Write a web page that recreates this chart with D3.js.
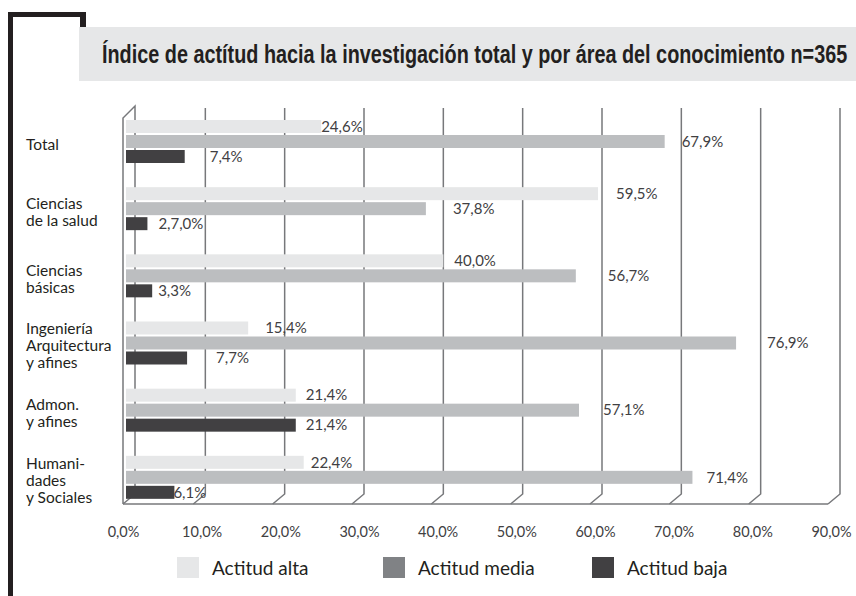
<!DOCTYPE html>
<html>
<head>
<meta charset="utf-8">
<script src="https://cdn.jsdelivr.net/npm/d3@7"></script>
<style>
  body { margin:0; background:#fff; }
  svg { display:block; }
  text { font-family: Lato, "Open Sans", sans-serif; fill:#414042; }
</style>
</head>
<body>
<div id="chart"></div>
<script>
// chart data
var categories = ["Total", "Ciencias de la salud", "Ciencias básicas", "Ingeniería Arquitectura y afines", "Admon. y afines", "Humanidades y Sociales"]
var catLines = [["Total"], ["Ciencias", "de la salud"], ["Ciencias", "básicas"], ["Ingeniería", "Arquitectura", "y afines"], ["Admon.", "y afines"], ["Humani-", "dades", "y Sociales"]]
var seriesNames = ["Actitud alta", "Actitud media", "Actitud baja"]
var alta  = [24.6, 59.5, 40.0, 15.4, 21.4, 22.4]
var media = [67.9, 37.8, 56.7, 76.9, 57.1, 71.4]
var baja  = [7.4, 2.7, 3.3, 7.7, 21.4, 6.1]
// label texts as printed (one of them has a typo in the source)
var altaLabels  = ["24,6%", "59,5%", "40,0%", "15,4%", "21,4%", "22,4%"]
var mediaLabels = ["67,9%", "37,8%", "56,7%", "76,9%", "57,1%", "71,4%"]
var bajaLabels  = ["7,4%", "2,7,0%", "3,3%", "7,7%", "21,4%", "6,1%"]
var tickValues = [0, 10, 20, 30, 40, 50, 60, 70, 80, 90]
var tickLabels = ["0,0%", "10,0%", "20,0%", "30,0%", "40,0%", "50,0%", "60,0%", "70,0%", "80,0%", "90,0%"]
var title = "Índice de actítud hacia la investigación total y por área del conocimiento n=365"

// layout / style
var colors = ["#e6e7e8", "#bcbec0", "#414042"]
var legendColors = ["#e6e7e8", "#808285", "#414042"]
var labelDx = [[0, 18, 11, 17, 10, 7], [17, 27, 32, 31, 24, 14], [25, 11, 6, 29, 10, -1]]
var W = 856, H = 596
var depthX = 12, depthY = 10

var svg = d3.select("#chart").append("svg").attr("width", W).attr("height", H)

// black frame + title box
var ink = "#231f20"
svg.append("rect").attr("x", 8).attr("y", 12).attr("width", 5).attr("height", H - 12).attr("fill", ink)
svg.append("rect").attr("x", 8).attr("y", 12).attr("width", 78).attr("height", 5).attr("fill", ink)
svg.append("rect").attr("x", 80).attr("y", 12).attr("width", 6).attr("height", 16).attr("fill", ink)
svg.append("rect").attr("x", 79).attr("y", 27).attr("width", W - 79).attr("height", 54).attr("fill", "#e6e7e8")
var titleText = svg.append("text")
  .style("font-family", "'Liberation Sans Narrow', 'Liberation Sans', sans-serif")
  .style("font-weight", "bold").style("font-size", "25px").style("fill", ink)
  .text(title)
// squeeze horizontally to the width of the condensed face in the reference
var tw = titleText.node().getComputedTextLength()
titleText.attr("transform", "translate(102,63) scale(" + (746 / tw) + ",1)")

// scales
var x = d3.scaleLinear().domain([0, 90]).range([126, 840])
var xt = d3.scaleLinear().domain([0, 90]).range([123, 831])
var y0 = d3.scaleBand().domain(categories).range([108, 511])
var y1 = d3.scaleBand().domain(seriesNames).range([12, 55]).paddingInner(2 / 15)

var gridTop = 108, gridBottom = 494
var grid = svg.append("g").attr("fill", "none").attr("stroke", "#77787b").attr("stroke-width", 1.5)

// left wall
var x0 = x(0) - 3
grid.append("path").attr("d",
  "M" + x0 + "," + (gridBottom + depthY) + "L" + x0 + "," + (gridTop + depthY) +
  "L" + (x0 + depthX) + "," + (gridTop - 2) + "L" + (x0 + depthX) + "," + gridBottom +
  "L" + x0 + "," + (gridBottom + depthY))

// back wall gridlines with floor diagonals
tickValues.slice(1).forEach(function(v) {
  var gx = x(v)
  grid.append("path").attr("d",
    "M" + gx + "," + gridTop + "L" + gx + "," + gridBottom + "L" + (gx - depthX) + "," + (gridBottom + depthY))
})
// floor front edge
grid.append("line")
  .attr("x1", x0).attr("x2", x(90) - depthX)
  .attr("y1", gridBottom + depthY).attr("y2", gridBottom + depthY)

// bars
var seriesData = [alta, media, baja]
var seriesLabels = [altaLabels, mediaLabels, bajaLabels]
seriesData.forEach(function(vals, s) {
  var rows = categories.map(function(c, i) {
    return {cat: c, value: vals[i], label: seriesLabels[s][i], dx: labelDx[s][i]}
  })
  var g = svg.append("g")
  g.selectAll("rect").data(rows).join("rect")
    .attr("x", x(0))
    .attr("y", d => y0(d.cat) + y1(seriesNames[s]))
    .attr("width", d => x(d.value) - x(0))
    .attr("height", y1.bandwidth())
    .attr("fill", colors[s])
  g.selectAll("text").data(rows).join("text")
    .attr("x", d => x(d.value) + d.dx)
    .attr("y", d => y0(d.cat) + y1(seriesNames[s]) + y1.bandwidth() / 2)
    .attr("dy", "0.35em")
    .style("font-size", "15px")
    .text(d => d.label)
})

// category labels
var cat = svg.append("g")
categories.forEach(function(c, i) {
  var lines = catLines[i]
  var cy = y0(c) + 12 + 43 / 2 + 3
  var lh = 17
  var t = cat.append("text").attr("x", 26).style("font-size", "15.5px").style("fill", ink)
  lines.forEach(function(l, k) {
    t.append("tspan").attr("x", 26)
      .attr("y", cy + (k - (lines.length - 1) / 2) * lh)
      .attr("dy", "0.35em")
      .text(l)
  })
})

// x axis labels
var axis = svg.append("g").attr("transform", "translate(0,533)")
  .call(d3.axisBottom(xt).tickValues(tickValues).tickSize(0).tickFormat((d, i) => tickLabels[i]))
axis.select(".domain").remove()
axis.selectAll("text").attr("dy", "0").attr("y", 0)
  .attr("dominant-baseline", "middle")
  .style("font-family", "Lato, 'Open Sans', sans-serif")
  .style("font-size", "14.5px").style("fill", "#414042")

// legend
var legend = svg.append("g")
var legendX = [177, 383, 592]
seriesNames.forEach(function(n, i) {
  legend.append("rect").attr("x", legendX[i]).attr("y", 557).attr("width", 22).attr("height", 21)
    .attr("fill", legendColors[i])
  legend.append("text").attr("x", legendX[i] + 35).attr("y", 568).attr("dy", "0.35em")
    .style("font-size", "19px").style("fill", ink)
    .text(n)
})
</script>
</body>
</html>
